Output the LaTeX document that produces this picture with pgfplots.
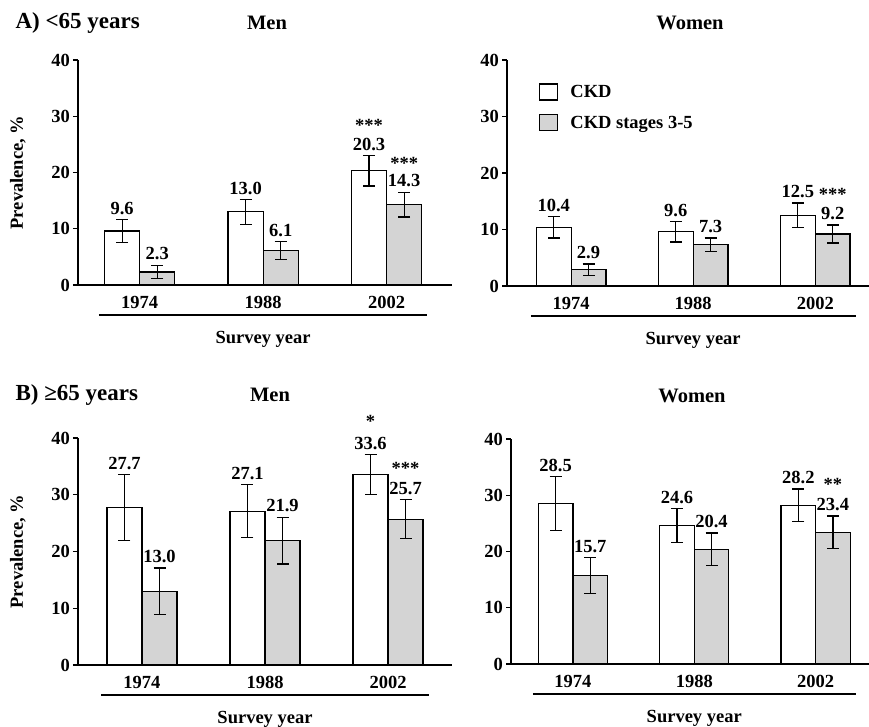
\documentclass[border=0pt]{standalone}
\usepackage{fontspec}
\setmainfont{Liberation Serif}
\usepackage{pgfplots}
\pgfplotsset{compat=1.18}
\usepackage{pgfplotstable}

\definecolor{stip}{RGB}{212,212,212}

% x = group position; ckd, ckde = CKD prevalence and error; stg, stge = CKD stages 3-5
\pgfplotstableread{
x ckd ckde stg stge
0 9.6 2.0 2.3 1.2
1 13.0 2.2 6.1 1.6
2 20.3 2.7 14.3 2.2
}\AMen
\pgfplotstableread{
x ckd ckde stg stge
0 10.4 1.9 2.9 1.0
1 9.6 1.8 7.3 1.2
2 12.5 2.2 9.2 1.6
}\AWomen
\pgfplotstableread{
x ckd ckde stg stge
0 27.7 5.8 13.0 4.1
1 27.1 4.7 21.9 4.1
2 33.6 3.5 25.7 3.4
}\BMen
\pgfplotstableread{
x ckd ckde stg stge
0 28.5 4.8 15.7 3.2
1 24.6 3.0 20.4 2.9
2 28.2 2.9 23.4 2.9
}\BWomen

\newcommand{\bigf}{\fontsize{18.5}{21}\selectfont\bfseries}

\pgfplotsset{
  panel/.style={
    scale only axis, anchor=south west, clip=false,
    axis lines*=left,
    axis line style={line width=1.3pt},
    ymin=0, ymax=40, ytick={0,10,20,30,40},
    xtick={0,1,2}, xticklabels={1974,1988,2002},
    /pgf/number format/assume math mode=true,
    tick align=outside, major tick length=5pt,
    x tick style={draw=none}, y tick style={line width=1.2pt, black},
    tick label style={font=\bigf},
    yticklabel style={inner sep=3pt},
    xticklabel style={inner sep=0pt, yshift=-6pt},
    label style={font=\bigf},
  },
  barA/.style={legend image code/.code={\draw[fill=white,draw=black,line width=1.2pt] (0pt,-8pt) rectangle (18pt,8pt);},
    ybar, bar width=0.285, bar shift=0pt, fill=white, draw=black, line width=1.2pt,
    error bars/.cd, y dir=both, y explicit, error mark=-,
    error mark options={rotate=90, mark size=6pt, line width=1.2pt, black},
    error bar style={line width=1.2pt, black}},
  barB/.style={legend image code/.code={\draw[fill=stip,draw=black,line width=1.2pt] (0pt,-8pt) rectangle (18pt,8pt);},
    ybar, bar width=0.285, bar shift=0pt, fill=stip, draw=black, line width=1.2pt,
    error bars/.cd, y dir=both, y explicit, error mark=-,
    error mark options={rotate=90, mark size=6pt, line width=1.2pt, black},
    error bar style={line width=1.2pt, black}},
  lab/.style={draw=none, mark=none, forget plot, nodes near coords,
    nodes near coords={\pgfmathprintnumber[fixed,fixed zerofill,precision=1]{\pgfplotspointmeta}},
    every node near coord/.style={font=\bigf, anchor=south, inner sep=0pt, yshift=5pt}},
}

\newcommand{\panel}[1]{%
  \addplot[barA] table[x expr=\thisrow{x}-0.1425, y=ckd, y error=ckde] {#1};
  \addplot[barB] table[x expr=\thisrow{x}+0.1425, y=stg, y error=stge] {#1};
  \addplot[lab, point meta=\thisrow{ckd}]
    table[x expr=\thisrow{x}-0.1425, y expr=\thisrow{ckd}+\thisrow{ckde}] {#1};
  \addplot[lab, point meta=\thisrow{stg}]
    table[x expr=\thisrow{x}+0.1425, y expr=\thisrow{stg}+\thisrow{stge}] {#1};
  \draw[line width=1.2pt] ([yshift=-30pt]axis cs:-0.33,0) -- ([yshift=-30pt]axis cs:2.33,0);
  \node[font=\bigf] at ([yshift=-54pt]axis cs:1,0) {Survey year};
}

\begin{document}
\begin{tikzpicture}[x=1pt,y=1pt]

% Panel A, men
\begin{axis}[panel, at={(78pt,-285pt)}, width=374pt, height=225pt, xmin=-0.5, xmax=2.53,
  ylabel={Prevalence, \%}, ylabel style={at={([xshift=-60pt]axis description cs:0,0.5)}, anchor=center}]
  \panel{\AMen}
  \node[font=\bigf] at (axis cs:2-0.1425,28.3) {***};
  \node[font=\bigf] at (axis cs:2+0.1425,21.6) {***};
\end{axis}

% Panel A, women
\begin{axis}[panel, at={(507pt,-286pt)}, width=362pt, height=226pt, xmin=-0.525, xmax=2.44,
  legend style={draw=none, fill=none, at={(rel axis cs:0,1)}, anchor=north west,
    xshift=32pt, yshift=-23pt, inner sep=0pt, row sep=13pt, font=\bigf, cells={anchor=west},
    /tikz/every odd column/.append style={column sep=10pt}}]
  \panel{\AWomen}
  \addlegendentry{CKD}
  \addlegendentry{CKD stages 3-5}
  \node[font=\bigf] at (axis cs:2+0.1425,16.2) {***};
\end{axis}

% Panel B, men
\begin{axis}[panel, at={(78pt,-665pt)}, width=374pt, height=227pt, xmin=-0.52, xmax=2.52,
  ylabel={Prevalence, \%}, ylabel style={at={([xshift=-60pt]axis description cs:0,0.5)}, anchor=center}]
  \panel{\BMen}
  \node[font=\bigf] at (axis cs:2-0.1425,42.9) {*};
  \node[font=\bigf] at (axis cs:2+0.1425,34.6) {***};
\end{axis}

% Panel B, women
\begin{axis}[panel, at={(511pt,-664pt)}, width=358pt, height=225pt, xmin=-0.51, xmax=2.44]
  \panel{\BWomen}
  \node[font=\bigf] at (axis cs:2+0.1425,31.9) {**};
\end{axis}

\node[anchor=base west, font=\fontsize{23}{26}\selectfont\bfseries] at (12pt,-29pt) {A) <65 years};
\node[anchor=base, font=\fontsize{20.5}{24}\selectfont\bfseries] at (267pt,-30pt) {Men};
\node[anchor=base, font=\fontsize{20.5}{24}\selectfont\bfseries] at (690pt,-30pt) {Women};
\node[anchor=base west, font=\fontsize{23}{26}\selectfont\bfseries] at (12pt,-400pt) {B) ≥65 years};
\node[anchor=base, font=\fontsize{20.5}{24}\selectfont\bfseries] at (270pt,-401pt) {Men};
\node[anchor=base, font=\fontsize{20.5}{24}\selectfont\bfseries] at (692pt,-402pt) {Women};

\pgfresetboundingbox
\path[use as bounding box] (0pt,0pt) rectangle (869pt,-727pt);
\end{tikzpicture}
\end{document}
